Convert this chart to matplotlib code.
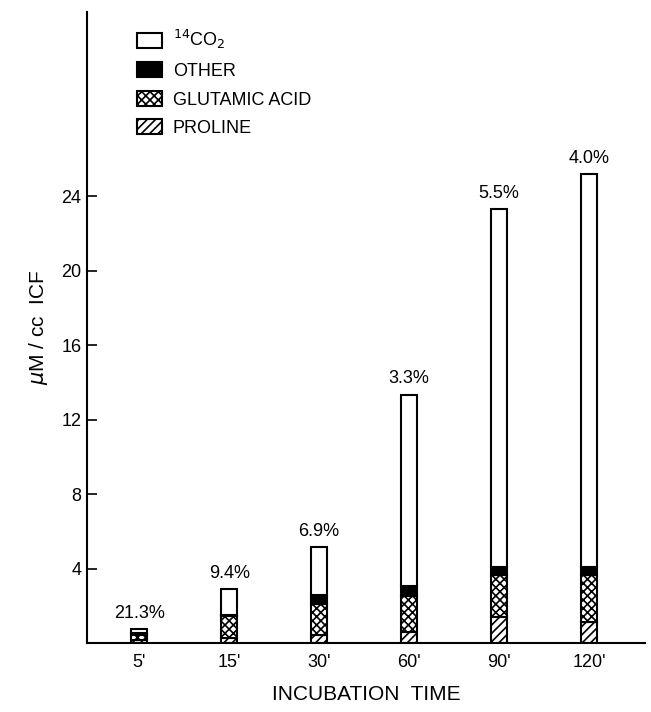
import numpy as np
import matplotlib
matplotlib.use('Agg')
import matplotlib.pyplot as plt

times = ["5'", "15'", "30'", "60'", "90'", "120'"]
proline = [0.15, 0.25, 0.4, 0.6, 1.4, 1.1]
glutamic = [0.25, 1.2, 1.7, 1.9, 2.25, 2.55]
other = [0.15, 0.05, 0.45, 0.55, 0.45, 0.45]
co2 = [0.2, 1.4, 2.6, 10.3, 19.2, 21.1]
pct_labels = ['21.3%', '9.4%', '6.9%', '3.3%', '5.5%', '4.0%']
yticks = [4, 8, 12, 16, 20, 24]

plt.rcParams['font.family'] = ['Liberation Sans', 'DejaVu Sans']
plt.rcParams['hatch.linewidth'] = 1.2
plt.rcParams['ytick.direction'] = 'in'

fig = plt.figure(figsize=(6.51, 7.12), dpi=100)
ax = fig.add_axes([0.1336, 0.097, 0.857, 0.886])

x = np.arange(len(times))
w = 0.18
b1 = np.array(proline)
b2 = b1 + np.array(glutamic)
b3 = b2 + np.array(other)
total = b3 + np.array(co2)

ax.bar(x, proline, w, color='white', edgecolor='black', hatch='////', linewidth=1.5, label='PROLINE')
ax.bar(x, glutamic, w, bottom=b1, color='white', edgecolor='black', hatch='xxxx', linewidth=1.5, label='GLUTAMIC ACID')
ax.bar(x, other, w, bottom=b2, color='black', edgecolor='black', linewidth=1.5, label='OTHER')
ax.bar(x, co2, w, bottom=b3, color='white', edgecolor='black', linewidth=1.5, label='$^{14}$CO$_2$')

for xi, t, lab in zip(x, total, pct_labels):
    ax.text(xi, t + 0.4, lab, ha='center', va='bottom', fontsize=13)

ax.set_xlim(-0.58, 5.62)
ax.set_ylim(0, 33.9)
ax.set_xticks(x)
ax.set_xticklabels(times, fontsize=13)
ax.set_yticks(yticks)
ax.tick_params(axis='y', labelsize=13, length=7, width=1.2, pad=4)
ax.tick_params(axis='x', length=0, pad=8)

ax.spines['top'].set_visible(False)
ax.spines['right'].set_visible(False)
ax.spines['left'].set_linewidth(1.5)
ax.spines['bottom'].set_linewidth(1.5)

ax.set_xlabel('INCUBATION  TIME', fontsize=15, labelpad=10)
ax.set_ylabel('$\\mu$M / cc  ICF', fontsize=15, labelpad=8)

h, l = ax.get_legend_handles_labels()
ax.legend(h[::-1], l[::-1], loc='upper left', bbox_to_anchor=(0.06, 1.0), frameon=False,
          fontsize=13, handlelength=1.4, handleheight=0.9, labelspacing=0.6, handletextpad=0.6)

plt.savefig('out.png', dpi=100)
